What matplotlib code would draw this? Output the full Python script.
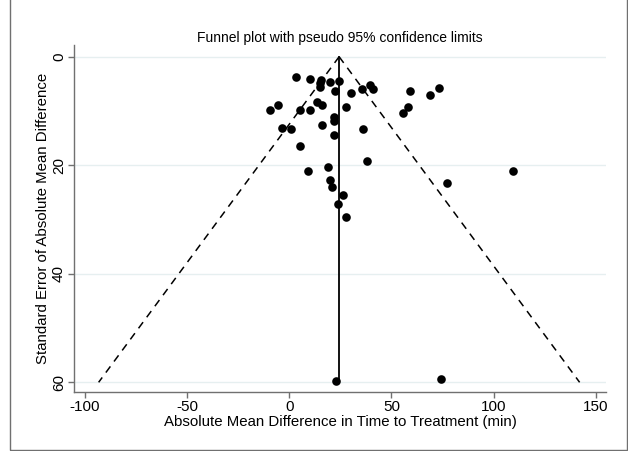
import numpy as np
import matplotlib.pyplot as plt

plt.rcParams['font.family'] = ['Liberation Sans', 'DejaVu Sans']
plt.rcParams['axes.unicode_minus'] = False

# study effects (min) and their standard errors
effect = [3.1, 10.0, 15.4, 15.0, 15.0, 20.0, 24.2, 22.2, 30.0, 35.7, 39.5, 40.8,
          59.0, 68.8, 73.1, -9.6, -5.7, 5.2, 10.0, 13.7, 16.0, 27.9, 58.2, 55.7,
          22.0, 22.0, -3.7, 1.0, 16.0, 36.0, 22.0, 5.1, 38.0, 9.3, 19.1, 19.9,
          21.0, 26.1, 24.0, 27.9, 77.0, 109.5, 22.8, 74.2]
se = [3.7, 4.1, 4.2, 4.8, 5.6, 4.7, 4.4, 6.3, 6.6, 6.0, 5.3, 6.0,
      6.3, 7.1, 5.8, 9.8, 8.9, 9.8, 9.8, 8.4, 8.9, 9.3, 9.2, 10.3,
      11.1, 11.8, 13.1, 13.3, 12.6, 13.4, 14.5, 16.5, 19.3, 21.0, 20.4, 22.8,
      24.0, 25.5, 27.2, 29.6, 23.3, 21.1, 59.8, 59.4]
pooled = 24.4
se_max = 60
xticks = [-100, -50, 0, 50, 100, 150]
yticks = [0, 20, 40, 60]

fig = plt.figure(figsize=(6.28, 4.51), dpi=100)
ax = fig.add_axes([74.3 / 628, 1 - 391.7 / 451, (606 - 74.3) / 628, (391.7 - 45) / 451])

for t in yticks:
    ax.axhline(t, color='#e6eff0', lw=1.0, zorder=0)

s = np.array([0, se_max])
ax.plot(pooled - 1.96 * s, s, color='black', ls=(0, (5, 4)), lw=1.1)
ax.plot(pooled + 1.96 * s, s, color='black', ls=(0, (5, 4)), lw=1.1)
ax.plot([pooled, pooled], [0, se_max], color='black', lw=1.3)
ax.plot(effect, se, 'o', color='black', ms=6.2, mew=0)

ax.set_xlim(-105.1, 154.9)
ax.set_ylim(61.73, -2.16)
ax.set_xticks(xticks)
ax.set_yticks(yticks)
ax.set_yticklabels([str(t) for t in yticks], rotation=90, va='center')

for side in ['top', 'right']:
    ax.spines[side].set_visible(False)
for side in ['left', 'bottom']:
    ax.spines[side].set_color('#707070')
    ax.spines[side].set_linewidth(1.0)
ax.tick_params(length=4, width=1.0, color='#707070', labelsize=11, pad=2)

ax.set_xlabel('Absolute Mean Difference in Time to Treatment (min)', fontsize=10.8, labelpad=1)
ax.set_ylabel('Standard Error of Absolute Mean Difference', fontsize=10.8)
ax.yaxis.set_label_coords(-0.046, 0.5)
ax.set_title('Funnel plot with pseudo 95% confidence limits', fontsize=10.0, pad=1)

# outer frame
fig.patches.append(plt.Rectangle((10 / 628, 0.002), 1 - 11 / 628, 1.2, transform=fig.transFigure,
                                 fill=False, edgecolor='#707070', lw=1.0))

fig.savefig('out.png', dpi=100)
